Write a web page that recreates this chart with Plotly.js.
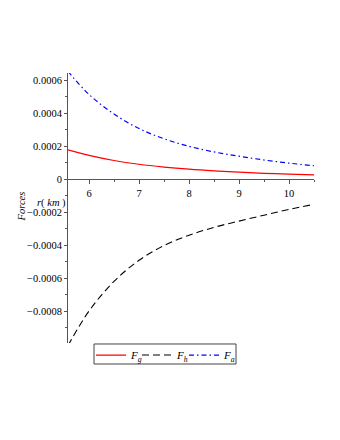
<!DOCTYPE html>
<html>
<head>
<meta charset="utf-8">
<script src="https://cdn.plot.ly/plotly-3.0.1.min.js"></script>
<style>html,body{margin:0;padding:0;background:#fff;}#chart{width:340px;height:440px;}</style>
</head>
<body>
<div id="chart"></div>
<script>
// r (km)
var r = [5.58, 6, 6.5, 7, 7.5, 8, 8.5, 9, 9.5, 10, 10.5];
// Forces
var Fg = [0.000179, 0.000145, 0.000114, 0.000091, 0.000074, 0.000061, 0.000051, 0.000043, 0.000036, 0.000031, 0.000026];
var Fh = [-0.00101, -0.000800, -0.000620, -0.000492, -0.000402, -0.000340, -0.000292, -0.000254, -0.000218, -0.000183, -0.000152];
var Fa = [0.000655, 0.000515, 0.000396, 0.000308, 0.000246, 0.000200, 0.000166, 0.000140, 0.000117, 0.000098, 0.000082];

var seriesNames = ['<i>F</i><sub><i>g</i></sub>', '<i>F</i><sub><i>h</i></sub>', '<i>F</i><sub><i>a</i></sub>'];
var xTickVals = [6, 7, 8, 9, 10];
var xTickText = ['6', '7', '8', '9', '10'];
var yTickVals = [-0.0008, -0.0006, -0.0004, -0.0002, 0, 0.0002, 0.0004, 0.0006];
var yTickText = ['\u22120.0008', '\u22120.0006', '\u22120.0004', '\u22120.0002', '0', '0.0002', '0.0004', '0.0006'];
var xLabel = '<i>r</i>( <i>km</i> )';
var yLabel = '<i>Forces</i>';

var font = "'Liberation Serif', 'Times New Roman', serif";
var yRange = [-0.000994, 0.000645];

var traces = [
  {x: r, y: Fg, name: seriesNames[0], legend: 'legend', mode: 'lines', line: {color: '#ff0000', width: 1.2, shape: 'spline'}},
  {x: r, y: Fh, name: seriesNames[1], legend: 'legend2', mode: 'lines', line: {color: '#000000', width: 1.1, shape: 'spline', dash: '7px,4px'}},
  {x: r, y: Fa, name: seriesNames[2], legend: 'legend3', mode: 'lines', line: {color: '#0000ff', width: 1.2, shape: 'spline', dash: '5px,3px,1.5px,3px'}}
];

function legendAt(xp) {
  return {
    orientation: 'h', x: xp, xanchor: 'left', y: 0.009, yanchor: 'top',
    borderwidth: 0, bgcolor: 'rgba(0,0,0,0)',
    font: {family: font, size: 11, color: '#000'}
  };
}

var layout = {
  width: 340, height: 440,
  margin: {l: 68, r: 26, t: 73, b: 97},
  paper_bgcolor: '#fff', plot_bgcolor: '#fff',
  font: {family: font, size: 10, color: '#000'},
  showlegend: true,
  xaxis: {
    range: [5.58, 10.5], anchor: 'free', position: -yRange[0] / (yRange[1] - yRange[0]),
    showgrid: false, zeroline: false, showline: true, linecolor: '#555', linewidth: 1,
    ticks: 'outside', ticklen: 4, tickcolor: '#555', tickvals: xTickVals, ticktext: xTickText,
    minor: {dtick: 0.5, ticks: 'outside', ticklen: 2, tickcolor: '#555'},
    tickfont: {family: font, size: 10.5, color: '#000'}
  },
  yaxis: {
    range: yRange, showgrid: false, zeroline: false, showline: true, linecolor: '#555', linewidth: 1,
    ticks: 'outside', ticklen: 3, tickcolor: '#555', tickvals: yTickVals, ticktext: yTickText,
    minor: {dtick: 0.0001, ticks: 'outside', ticklen: 2, tickcolor: '#555'},
    tickfont: {family: font, size: 10.5, color: '#000'}
  },
  legend: legendAt(0.0935),
  legend2: legendAt(0.2805),
  legend3: legendAt(0.4715),
  shapes: [
    {type: 'rect', xref: 'paper', yref: 'paper', x0: 0.1057, x1: 0.683, y0: -0.0778, y1: -0.0037,
     line: {color: '#444', width: 1}, fillcolor: 'rgba(0,0,0,0)', layer: 'above'}
  ],
  annotations: [
    {text: xLabel, xref: 'paper', yref: 'paper', x: -0.069, y: 0.52, xanchor: 'center', yanchor: 'middle', showarrow: false,
     font: {family: font, size: 10.5, color: '#000'}},
    {text: yLabel, xref: 'paper', yref: 'paper', x: -0.189, y: 0.504, xanchor: 'center', yanchor: 'middle', showarrow: false, textangle: -90,
     font: {family: font, size: 10.5, color: '#000'}}
  ]
};

Plotly.newPlot('chart', traces, layout, {displayModeBar: false, staticPlot: true});
</script>
</body>
</html>
